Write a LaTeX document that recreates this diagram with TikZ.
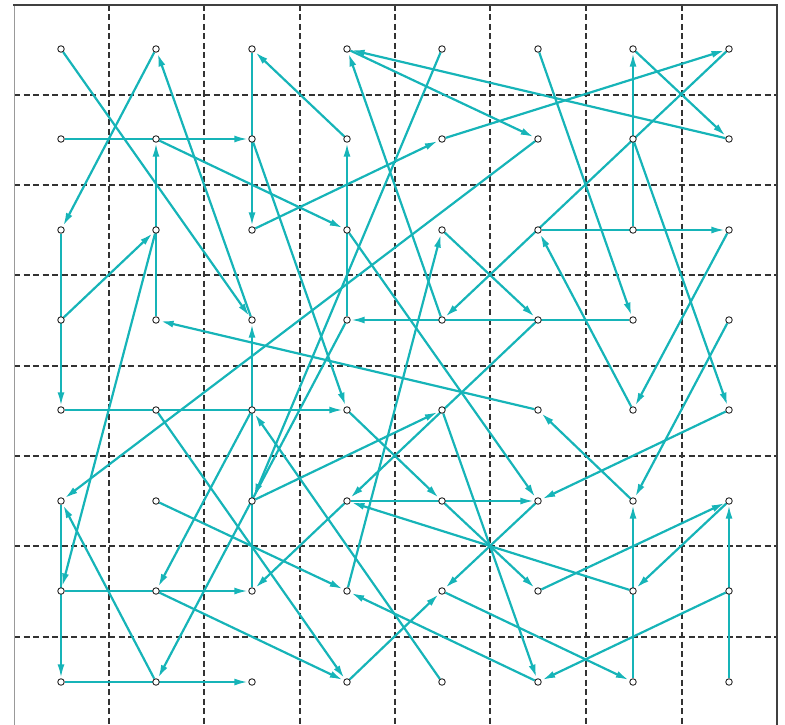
\documentclass[tikz,border=0pt]{standalone}
\usetikzlibrary{arrows.meta}
\definecolor{tealline}{RGB}{22,180,184}
\pgfdeclarelayer{bg}\pgfdeclarelayer{fg}\pgfsetlayers{bg,main,fg}
\begin{document}
\begin{tikzpicture}[x=1bp,y=-1bp,
  dot/.style={circle,draw=black!85,fill=white,line width=0.9bp,inner sep=0pt,minimum size=6.5bp},
  gridline/.style={draw=black!80,line width=1.8bp,dash pattern=on 6bp off 3.5bp},
  arr/.style={draw=tealline,line width=2.2bp,-{Latex[length=13bp,width=7bp]},shorten >=1bp},
  arrh/.style={arr,line width=1.7bp}]
\useasboundingbox (0,0) rectangle (785,725);
\begin{pgfonlayer}{bg}
  \foreach \x in {109,204,300,395,490,586,682}
    \draw[gridline] (\x,5) -- (\x,725);
  \foreach \y in {95,185,275,366,456,546,637}
    \draw[gridline] (14,\y) -- (777,\y);
  \draw[black!40,line width=1bp] (14.5,5) -- (14.5,725);
  \draw[black!75,line width=2bp] (13,5) -- (777,5) -- (777,725);
\end{pgfonlayer}
\begin{pgfonlayer}{fg}
  \foreach \c/\x in {1/61,2/156,3/252,4/347,5/442,6/538,7/633,8/729}{
    \foreach \r/\y in {1/49,2/139,3/230,4/320,5/410,6/501,7/591,8/682}{
      \node[dot] (p\c\r) at (\x,\y) {};}}
\end{pgfonlayer}
% row 1
\draw[arr] (p11) -- (p34);
\draw[arr] (p21) -- (p13);
\draw[arrh] (p31) -- (p33);
\draw[arr] (p41) -- (p62);
\draw[arr] (p51) -- (p36);
\draw[arr] (p61) -- (p74);
\draw[arr] (p71) -- (p82);
\draw[arr] (p81) -- (p54);
% row 2
\draw[arrh] (p12) -- (p32);
\draw[arr] (p22) -- (p43);
\draw[arr] (p32) -- (p45);
\draw[arr] (p42) -- (p31);
\draw[arr] (p52) -- (p81);
\draw[arr] (p62) -- (p16);
\draw[arr] (p72) -- (p85);
\draw[arr] (p82) -- (p41);
% row 3
\draw[arrh] (p13) -- (p15);
\draw[arr] (p23) -- (p17);
\draw[arr] (p33) -- (p52);
\draw[arr] (p43) -- (p66);
\draw[arr] (p53) -- (p64);
\draw[arrh] (p63) -- (p83);
\draw[arrh] (p73) -- (p71);
\draw[arr] (p83) -- (p75);
% row 4
\draw[arr] (p14) -- (p23);
\draw[arrh] (p24) -- (p22);
\draw[arr] (p34) -- (p21);
\draw[arrh] (p44) -- (p42);
\draw[arr] (p44) -- (p28);
\draw[arr] (p54) -- (p41);
\draw[arr] (p64) -- (p46);
\draw[arrh] (p74) -- (p44);
\draw[arr] (p84) -- (p76);
% row 5
\draw[arrh] (p15) -- (p45);
\draw[arr] (p25) -- (p48);
\draw[arr] (p35) -- (p27);
\draw[arr] (p45) -- (p56);
\draw[arr] (p55) -- (p68);
\draw[arr] (p65) -- (p24);
\draw[arr] (p75) -- (p63);
\draw[arr] (p85) -- (p66);
% row 6
\draw[arrh] (p16) -- (p18);
\draw[arr] (p26) -- (p47);
\draw[arr] (p36) -- (p55);
\draw[arrh] (p46) -- (p66);
\draw[arr] (p46) -- (p37);
\draw[arr] (p56) -- (p67);
\draw[arr] (p66) -- (p57);
\draw[arr] (p76) -- (p65);
\draw[arr] (p86) -- (p77);
% row 7
\draw[arrh] (p17) -- (p37);
\draw[arr] (p27) -- (p48);
\draw[arrh] (p37) -- (p34);
\draw[arr] (p47) -- (p53);
\draw[arr] (p57) -- (p78);
\draw[arr] (p67) -- (p86);
\draw[arr] (p77) -- (p46);
\draw[arr] (p87) -- (p68);
% row 8
\draw[arrh] (p18) -- (p38);
\draw[arr] (p28) -- (p16);
\draw[arr] (p48) -- (p57);
\draw[arr] (p58) -- (p35);
\draw[arr] (p68) -- (p47);
\draw[arrh] (p78) -- (p76);
\draw[arrh] (p88) -- (p86);
\end{tikzpicture}
\end{document}
